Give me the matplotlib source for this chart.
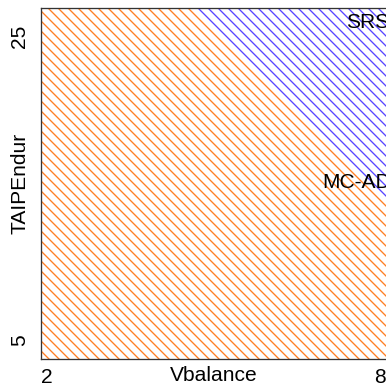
import matplotlib
matplotlib.use("Agg")
import matplotlib.pyplot as plt

# partition boundary between the two classes
boundary_x = [4.65, 8.13]
boundary_y = [26.84, 14.0]

class_names = ["SRS", "MC-AD"]
label_x = [7.77, 7.57]
label_y = [25.86, 15.33]

x_ticks = [2, 8]
y_ticks = [5, 25]
x_lim = [1.892, 8.126]
y_lim = [3.75, 26.84]

orange = "#FF7F24"
blue = "#5A46FF"

DPI = 60
plt.rcParams["font.family"] = ["Liberation Sans", "DejaVu Sans"]
plt.rcParams["hatch.linewidth"] = 1.6

def px(n):
    # pixel size -> points at this dpi
    return n * 72.0 / DPI

fig = plt.figure(figsize=(386 / DPI, 389 / DPI), dpi=DPI)
ax = fig.add_axes([41 / 386, 30 / 389, 346 / 386, 351 / 389])
ax.set_xlim(x_lim)
ax.set_ylim(y_lim)

x0, x1 = x_lim
y0, y1 = y_lim
# lower / left region
ax.fill([x0, x1, x1, boundary_x[0], x0],
        [y0, y0, boundary_y[1], boundary_y[0], y1],
        facecolor="none", edgecolor=orange, hatch="\\\\", linewidth=0)
# upper right region
ax.fill([boundary_x[0], x1, x1],
        [boundary_y[0], boundary_y[1], y1],
        facecolor="none", edgecolor=blue, hatch="\\\\", linewidth=0)

for name, lx, ly in zip(class_names, label_x, label_y):
    ax.text(lx, ly, name, ha="center", va="center", fontsize=px(21), clip_on=False)

ax.set_xticks(x_ticks)
ax.set_yticks(y_ticks)
ax.set_xticklabels([str(t) for t in x_ticks], fontsize=px(21))
ax.set_yticklabels([str(t) for t in y_ticks], fontsize=px(21), rotation=90, va="center")
ax.tick_params(axis="x", length=0, pad=px(9))
ax.tick_params(axis="y", length=0, pad=px(12))
ax.set_xlabel("Vbalance", fontsize=px(21), labelpad=px(-21))
ax.set_ylabel("TAIPEndur", fontsize=px(21), labelpad=px(-20))
for s in ax.spines.values():
    s.set_linewidth(px(1.3))
    s.set_color("#333333")

fig.savefig("out.png", dpi=DPI)
